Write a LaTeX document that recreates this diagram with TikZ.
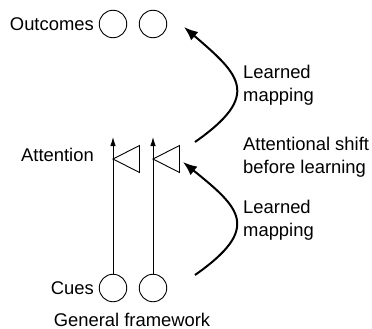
\documentclass[tikz,border=0pt]{standalone}
\usepackage{fontspec}
\setmainfont{Liberation Sans}
\usetikzlibrary{arrows.meta}
\begin{document}
\begin{tikzpicture}[x=1pt,y=-1pt,
  unit/.style={circle,draw,line width=0.9pt,minimum size=27.5pt,inner sep=0pt},
  lbl/.style={inner sep=0pt,font=\fontsize{18.4}{23}\selectfont},
  note/.style={lbl,align=left,anchor=west},
  cueline/.style={line width=0.9pt,-{Latex[length=9pt,width=5.5pt]}},
  gate/.style={line width=0.9pt,line join=miter},
  mapping/.style={line width=2pt,-{Latex[length=14pt,width=11pt]}}]
\useasboundingbox (0,0) rectangle (372,329);

% outcome units
\node[unit] (o1) at (113,24) {};
\node[unit] (o2) at (153,24) {};
\node[lbl,anchor=east] (outl) at (94,24) {Outcomes};

% cue units
\node[unit] (c1) at (113,288) {};
\node[unit] (c2) at (153,288) {};
\node[lbl,anchor=east] (cuel) at (94,288) {Cues};

% attention gates and cue lines
\coordinate (t1) at (113,137);
\coordinate (t2) at (153,137);
\draw[cueline] (c1.north) -- (t1);
\draw[cueline] (c2.north) -- (t2);
\coordinate (g1) at (113,159);
\coordinate (g2) at (153,159);
\draw[gate] (g1) -- ++(26.5,-13.5) -- ++(0,27) -- cycle;
\draw[gate] (g2) -- ++(26.5,-13.5) -- ++(0,27) -- cycle;
\node[lbl,anchor=east] (attl) at (94,155) {Attention};

% learned mappings
\coordinate (m1s) at (195,142);
\coordinate (m1e) at (184,27);
\draw[mapping] (m1s) .. controls (262,95) and (240,75) .. (m1e);
\coordinate (m2s) at (195,275);
\coordinate (m2e) at (183,162);
\draw[mapping] (m2s) .. controls (262,228) and (240,208) .. (m2e);

\node[note] (lm1) at (243,85) {Learned\\mapping};
\node[note] (shift) at (243,157) {Attentional shift\\before learning};
\node[note] (lm2) at (243,220) {Learned\\mapping};

\node[lbl] (title) at (132,319.5) {General framework};
\end{tikzpicture}
\end{document}
